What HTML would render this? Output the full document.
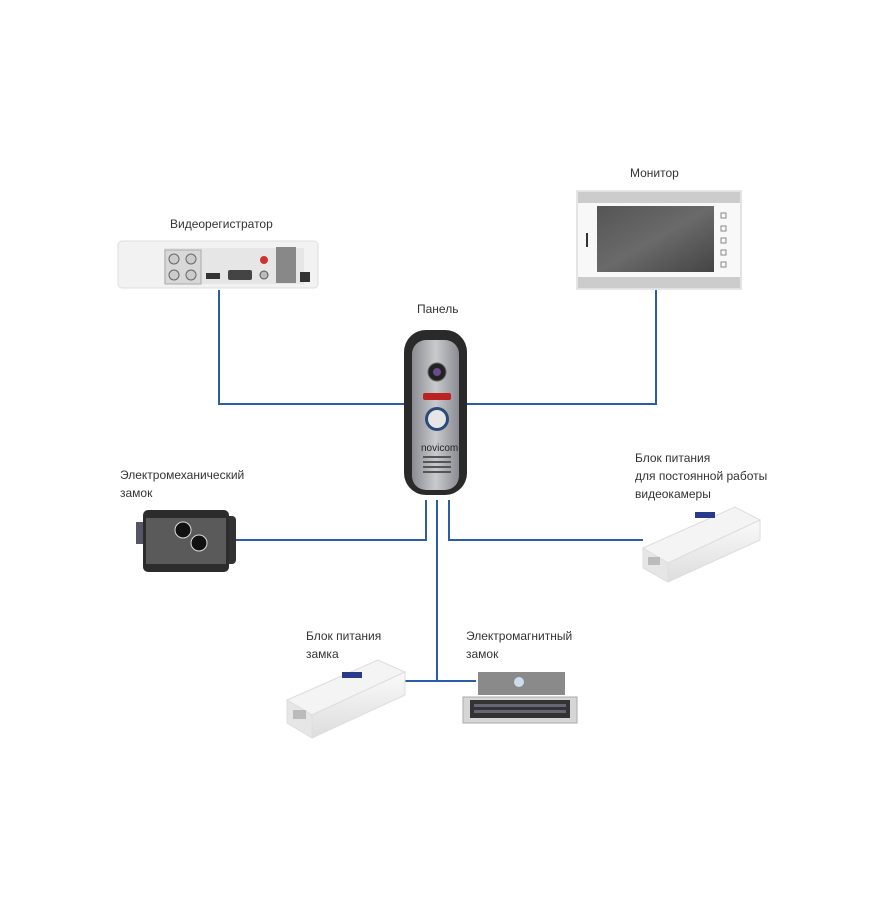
<!DOCTYPE html>
<html><head><meta charset="utf-8"><style>
html,body{margin:0;padding:0;background:#fff;}
svg{display:block}
text{font-family:"Liberation Sans","DejaVu Sans",sans-serif;font-size:12px;fill:#333;}
</style></head><body>
<svg width="896" height="908" viewBox="0 0 896 908">
<defs>
<linearGradient id="pan" x1="0" x2="1"><stop offset="0" stop-color="#8a8c92"/><stop offset=".5" stop-color="#c8cace"/><stop offset="1" stop-color="#8a8c92"/></linearGradient>
<linearGradient id="scr" x1="0" y1="0" x2="1" y2="1"><stop offset="0" stop-color="#555"/><stop offset=".5" stop-color="#6a6a6a"/><stop offset="1" stop-color="#444"/></linearGradient>
<linearGradient id="psu" x1="0" y1="0" x2="0" y2="1"><stop offset="0" stop-color="#fafafa"/><stop offset="1" stop-color="#ddd"/></linearGradient>
</defs>
<g stroke="#2a5ca8" stroke-width="2" fill="none">
<polyline points="219,290 219,404 410,404"/>
<polyline points="656,290 656,404 467,404"/>
<polyline points="426,500 426,540 233,540"/>
<polyline points="449,500 449,540 643,540"/>
<polyline points="437,500 437,681"/>
<polyline points="398,681 476,681"/>
</g>
<text x="170" y="228">Видеорегистратор</text>
<text x="630" y="177">Монитор</text>
<text x="417" y="313">Панель</text>
<text x="120" y="479">Электромеханический</text>
<text x="120" y="497">замок</text>
<text x="635" y="462">Блок питания</text>
<text x="635" y="480">для постоянной работы</text>
<text x="635" y="498">видеокамеры</text>
<text x="306" y="640">Блок питания</text>
<text x="306" y="658">замка</text>
<text x="466" y="640">Электромагнитный</text>
<text x="466" y="658">замок</text>
<!-- DVR -->
<rect x="118" y="241" width="200" height="47" rx="4" fill="#f2f2f2" stroke="#ddd"/>
<rect x="164" y="248" width="140" height="36" fill="#e6e6e6"/>
<rect x="165" y="250" width="36" height="34" fill="#d8d8d8" stroke="#aaa"/>
<circle cx="174" cy="259" r="5" fill="#ccc" stroke="#666"/><circle cx="191" cy="259" r="5" fill="#ccc" stroke="#666"/>
<circle cx="174" cy="275" r="5" fill="#ccc" stroke="#666"/><circle cx="191" cy="275" r="5" fill="#ccc" stroke="#666"/>
<rect x="206" y="273" width="14" height="6" fill="#333"/>
<rect x="228" y="270" width="24" height="10" rx="2" fill="#444"/>
<circle cx="264" cy="260" r="4" fill="#c33"/><circle cx="264" cy="275" r="4" fill="#bbb" stroke="#555"/>
<rect x="276" y="247" width="20" height="36" fill="#888"/>
<rect x="300" y="272" width="10" height="10" fill="#333"/>
<!-- Monitor -->
<rect x="577" y="191" width="164" height="98" fill="#f8f8f8" stroke="#ccc"/>
<rect x="578" y="192" width="162" height="11" fill="#ccc"/>
<rect x="578" y="277" width="162" height="11" fill="#ccc"/>
<rect x="597" y="206" width="117" height="66" fill="url(#scr)"/>
<rect x="586" y="233" width="2" height="14" fill="#333"/>
<g fill="none" stroke="#888"><rect x="721" y="213" width="5" height="5"/><rect x="721" y="226" width="5" height="5"/><rect x="721" y="238" width="5" height="5"/><rect x="721" y="250" width="5" height="5"/><rect x="721" y="262" width="5" height="5"/></g>
<!-- Panel -->
<rect x="404" y="330" width="63" height="165" rx="22" fill="#2a2a2a"/>
<rect x="412" y="340" width="47" height="150" rx="14" fill="url(#pan)"/>
<circle cx="437" cy="372" r="9" fill="#222" stroke="#666"/><circle cx="437" cy="372" r="4" fill="#6a4a8a"/>
<rect x="423" y="393" width="28" height="7" rx="2" fill="#b22"/>
<circle cx="437" cy="419" r="12" fill="#2a4a7a"/><circle cx="437" cy="419" r="9" fill="#e6e6e6"/>
<text x="421" y="451" style="font-size:10px;fill:#222">novicom</text>
<g fill="#555"><rect x="423" y="456" width="28" height="2"/><rect x="423" y="461" width="28" height="2"/><rect x="423" y="466" width="28" height="2"/><rect x="423" y="471" width="28" height="2"/></g>
<!-- Electromech lock -->
<rect x="136" y="522" width="8" height="22" fill="#556"/>
<rect x="224" y="516" width="12" height="48" rx="4" fill="#333"/>
<rect x="143" y="510" width="86" height="62" rx="5" fill="#2c2c2c"/>
<rect x="146" y="518" width="80" height="46" fill="#5a5a5a"/>
<circle cx="183" cy="530" r="8" fill="#111" stroke="#ddd"/>
<circle cx="199" cy="543" r="8" fill="#111" stroke="#ddd"/>
<!-- PSU right -->
<polygon points="643,548 735,507 760,520 668,563" fill="#f4f4f4" stroke="#ddd"/>
<polygon points="643,548 668,563 668,582 643,568" fill="#e6e6e6" stroke="#ddd"/>
<polygon points="668,563 760,520 760,540 668,582" fill="url(#psu)" stroke="#ddd"/>
<rect x="648" y="557" width="12" height="8" fill="#bbb"/>
<rect x="695" y="512" width="20" height="6" fill="#2a3a8a"/>
<!-- PSU left -->
<polygon points="287,700 378,660 405,672 312,715" fill="#f4f4f4" stroke="#ddd"/>
<polygon points="287,700 312,715 312,738 287,723" fill="#e6e6e6" stroke="#ddd"/>
<polygon points="312,715 405,672 405,695 312,738" fill="url(#psu)" stroke="#ddd"/>
<rect x="293" y="710" width="13" height="9" fill="#bbb"/>
<rect x="342" y="672" width="20" height="6" fill="#2a3a8a"/>
<!-- Mag lock -->
<rect x="478" y="672" width="87" height="23" fill="#8a8a8a"/>
<circle cx="519" cy="682" r="5" fill="#cde"/>
<rect x="463" y="697" width="114" height="26" fill="#d6d6d6" stroke="#aaa"/>
<rect x="470" y="700" width="100" height="18" fill="#333"/>
<rect x="474" y="704" width="92" height="3" fill="#667"/><rect x="474" y="710" width="92" height="3" fill="#667"/>
</svg>
</body></html>
